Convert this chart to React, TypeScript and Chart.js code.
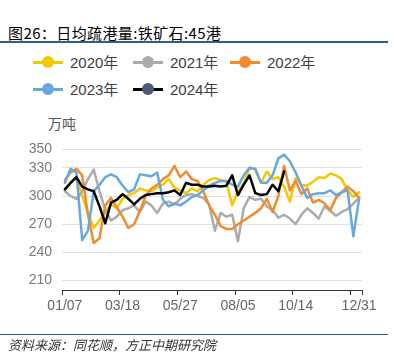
import React, { useEffect, useRef } from 'react';
import { Chart, registerables } from 'chart.js';

Chart.register(...registerables);

const labels = [
  '01/07', '01/14', '01/21', '01/28', '02/04', '02/11', '02/18', '02/25', '03/04', '03/11',
  '03/18', '03/25', '04/01', '04/08', '04/15', '04/22', '04/29', '05/06', '05/13', '05/20',
  '05/27', '06/03', '06/10', '06/17', '06/24', '07/01', '07/08', '07/15', '07/22', '07/29',
  '08/05', '08/12', '08/19', '08/26', '09/02', '09/09', '09/16', '09/23', '09/30', '10/07',
  '10/14', '10/21', '10/28', '11/04', '11/11', '11/18', '11/25', '12/02', '12/09', '12/16',
  '12/23', '12/31',
];

const y2020 = [
  307, 315, 320, 300, 282, 266, 274, 283, 291, 287,
  297, 301, 303, 308, 306, 305, 309, 312, 318, 309,
  306, 303, 308, 305, 312, 317, 319, 317, 315, 290,
  305, 313, 330, 328, 314, 326, 318, 320, 310, 294,
  319, 312, 311, 315, 320, 319, 324, 322, 318, 306,
  299, 304,
];

const y2021 = [
  305, 300, 297, 305, 318, 328, 305, 285, 274, 278,
  285, 287, 290, 283, 294, 290, 282, 292, 294, 291,
  297, 301, 302, 300, 298, 291, 263, 282, 278, 280,
  252, 287, 299, 296, 297, 289, 285, 277, 280, 276,
  270, 280, 287, 282, 276, 289, 284, 279, 283, 286,
  292, 298,
];

const y2022 = [
  317, 325, 329, 322, 280, 250, 255, 290, 298, 288,
  278, 266, 270, 284, 300, 308, 312, 318, 322, 332,
  320, 326, 318, 316, 305, 290, 280, 268, 265, 265,
  270, 274, 278, 282, 287, 297, 283, 300, 332, 306,
  316, 302, 308, 293, 296, 292, 285, 298, 304, 310,
  305, 298,
];

const y2023 = [
  314, 329, 325, 253, 263, 305, 312, 320, 323, 320,
  311, 304, 307, 323, 322, 321, 325, 296, 289, 292,
  290, 294, 299, 301, 306, 311, 314, 316, 316, 312,
  310, 322, 330, 329, 314, 314, 322, 340, 344, 337,
  325, 311, 298, 302, 303, 303, 306, 301, 304, 306,
  257, 297,
];

const y2024 = [
  307, 314, 320, 310, 307, 305, 289, 271, 293, 296,
  302, 297, 291, 297, 301, 302, 303, 303, 304, 306,
  301, 314, 312, 312, 310, 310, 311, 310, 311, 322,
  301, 312, 322, 303, 301, 302, 312, 305, 326, null,
  null, null, null, null, null, null, null, null, null, null,
  null, null,
];

const seriesNames = ['2020年', '2021年', '2022年', '2023年', '2024年'];
const lineColors = ['#F5C800', '#ABABAB', '#F28A30', '#68A8E0', '#000000'];
const markerColors = ['#F5C800', '#ABABAB', '#F28A30', '#68A8E0', '#4B5A78'];
const yTicks = [210, 240, 270, 300, 330, 350];
const shownLabelIdx = [0, 10, 20, 30, 40, 51];

const FONT = '"Liberation Sans", "Noto Sans CJK SC", sans-serif';
const CJK = '"Noto Sans CJK SC", "Liberation Sans", sans-serif';

const legendPos = [
  { x: 33, y: 62 },
  { x: 133, y: 62 },
  { x: 230, y: 62 },
  { x: 33, y: 89 },
  { x: 133, y: 89 },
];

export default function App() {
  const canvasRef = useRef<HTMLCanvasElement | null>(null);

  useEffect(() => {
    const canvas = canvasRef.current;
    if (!canvas) return;
    const all = [y2020, y2021, y2022, y2023, y2024];
    const chart = new Chart(canvas, {
      type: 'line',
      data: {
        labels,
        datasets: all.map((d, i) => ({
          label: seriesNames[i],
          data: d,
          borderColor: lineColors[i],
          backgroundColor: lineColors[i],
          borderWidth: 2.5,
          pointRadius: 0,
          pointHoverRadius: 0,
          tension: 0,
          fill: false,
          borderJoinStyle: 'round',
          borderCapStyle: 'round',
          order: 4 - i,
        })),
      },
      options: {
        animation: false,
        responsive: false,
        maintainAspectRatio: false,
        layout: { padding: { top: 49, right: 32, left: 0, bottom: 0 } },
        plugins: {
          legend: { display: false },
          tooltip: { enabled: false },
          title: { display: false },
        },
        scales: {
          x: {
            type: 'category',
            offset: true,
            grid: {
              offset: true,
              drawOnChartArea: false,
              drawTicks: true,
              tickLength: 5,
              tickWidth: 1,
              tickColor: (ctx: any) =>
                ctx.type === 'scale' || ctx.index === undefined || ctx.index % 10 === 0
                  ? '#333333'
                  : 'rgba(0,0,0,0)',
            },
            border: { display: true, color: '#333333', width: 1 },
            ticks: {
              autoSkip: false,
              maxRotation: 0,
              minRotation: 0,
              padding: 3,
              color: '#666666',
              font: { size: 14, family: FONT },
              callback: (_v: any, i: number) => (shownLabelIdx.includes(i) ? labels[i] : ''),
            },
            afterFit: (s: any) => {
              s.height = 60;
            },
          },
          y: {
            min: 200,
            max: 350,
            afterBuildTicks: (s: any) => {
              s.ticks = yTicks.map((v) => ({ value: v }));
            },
            grid: { color: '#DDE1EA', lineWidth: 1, drawTicks: false },
            border: { display: false },
            ticks: {
              padding: 10,
              color: '#7A7A7A',
              font: { size: 14, family: FONT },
            },
            afterFit: (s: any) => {
              s.width = 62;
            },
          },
        },
      },
    } as any);
    return () => chart.destroy();
  }, []);

  const centered = (top: number): React.CSSProperties => ({
    position: 'absolute',
    top,
    transform: 'translateY(-50%)',
    lineHeight: 1,
    whiteSpace: 'nowrap',
  });

  return (
    <div
      style={{
        position: 'fixed',
        left: 0,
        top: 0,
        width: 394,
        height: 362,
        background: '#ffffff',
        overflow: 'hidden',
        fontFamily: FONT,
      }}
    >
      <div
        style={{
          ...centered(32),
          left: 8,
          fontFamily: CJK,
          fontSize: 15,
          fontWeight: 400,
          letterSpacing: 0.4,
          color: '#000000',
        }}
      >
        图26：日均疏港量:铁矿石:45港
      </div>
      <div style={{ position: 'absolute', left: 0, top: 41, width: 388, height: 1.5, background: '#2E5E8E' }} />

      {seriesNames.map((name, i) => (
        <React.Fragment key={name}>
          <div
            style={{
              position: 'absolute',
              left: legendPos[i].x,
              top: legendPos[i].y - 1.5,
              width: 30,
              height: 3,
              background: lineColors[i],
            }}
          />
          <div
            style={{
              position: 'absolute',
              left: legendPos[i].x + 9,
              top: legendPos[i].y - 6,
              width: 12,
              height: 12,
              borderRadius: '50%',
              background: markerColors[i],
            }}
          />
          <div
            style={{
              ...centered(legendPos[i].y),
              left: legendPos[i].x + 37,
              fontSize: 15,
              color: '#404040',
            }}
          >
            {name}
          </div>
        </React.Fragment>
      ))}

      <div style={{ ...centered(123), left: 48, fontFamily: CJK, fontSize: 14, color: '#555555' }}>万吨</div>

      <canvas
        ref={canvasRef}
        width={394}
        height={250}
        style={{ position: 'absolute', left: 0, top: 100, width: 394, height: 250 }}
      />

      <div style={{ position: 'absolute', left: 0, top: 333.5, width: 388, height: 1.2, background: '#2E5E8E' }} />
      <div
        style={{
          ...centered(344),
          left: 8,
          fontFamily: CJK,
          fontSize: 13,
          fontStyle: 'italic',
          color: '#333333',
        }}
      >
        资料来源：同花顺，方正中期研究院
      </div>
    </div>
  );
}
